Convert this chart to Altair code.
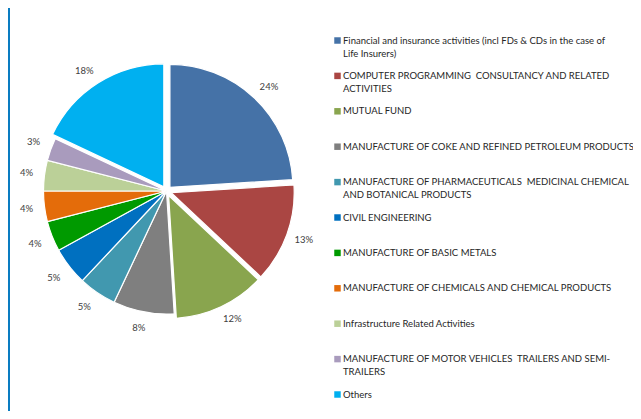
import altair as alt
import pandas as pd

categories = [
    "Financial and insurance activities (incl FDs & CDs in the case of Life Insurers)",
    "COMPUTER PROGRAMMING  CONSULTANCY AND RELATED ACTIVITIES",
    "MUTUAL FUND",
    "MANUFACTURE OF COKE AND REFINED PETROLEUM PRODUCTS",
    "MANUFACTURE OF PHARMACEUTICALS  MEDICINAL CHEMICAL AND BOTANICAL PRODUCTS",
    "CIVIL ENGINEERING",
    "MANUFACTURE OF BASIC METALS",
    "MANUFACTURE OF CHEMICALS AND CHEMICAL PRODUCTS",
    "Infrastructure Related Activities",
    "MANUFACTURE OF MOTOR VEHICLES  TRAILERS AND SEMI-TRAILERS",
    "Others",
]
values = [24, 13, 12, 8, 5, 5, 4, 4, 4, 3, 18]

legend_lines = [
    ["Financial and insurance activities (incl FDs & CDs in the case of", "Life Insurers)"],
    ["COMPUTER PROGRAMMING \u00a0CONSULTANCY AND RELATED", "ACTIVITIES"],
    ["MUTUAL FUND"],
    ["MANUFACTURE OF COKE AND REFINED PETROLEUM PRODUCTS"],
    ["MANUFACTURE OF PHARMACEUTICALS \u00a0MEDICINAL CHEMICAL", "AND BOTANICAL PRODUCTS"],
    ["CIVIL ENGINEERING"],
    ["MANUFACTURE OF BASIC METALS"],
    ["MANUFACTURE OF CHEMICALS AND CHEMICAL PRODUCTS"],
    ["Infrastructure Related Activities"],
    ["MANUFACTURE OF MOTOR VEHICLES \u00a0TRAILERS AND SEMI-", "TRAILERS"],
    ["Others"],
]

# styling
colors = ["#4572A7", "#AA4643", "#89A54E", "#7F7F7F", "#4198AF", "#0070C0",
          "#009A00", "#E46C0A", "#BBD098", "#A99BBD", "#00B0F0"]
exploded_cats = [categories[0], categories[1], categories[2], categories[10]]

W, H = 625, 403
CX, CY, R = 158.5, 183, 123
D = 5
LR = 134.3
HH = 5
FONT = "Lato"

df = pd.DataFrame({
    "cat": categories,
    "value": values,
    "order": list(range(len(categories))),
    "exploded": [1 if c in exploded_cats else 0 for c in categories],
})

color_scale = alt.Scale(domain=categories, range=colors)

base = (
    alt.Chart(df)
    .transform_joinaggregate(total="sum(value)")
    .transform_window(cum="sum(value)", sort=[alt.SortField("order")], frame=[None, 0])
    .transform_calculate(
        t0="(datum.cum - datum.value) / datum.total * 2 * PI",
        t1="datum.cum / datum.total * 2 * PI",
        label="format(datum.value, 'd') + '%'",
    )
    .transform_calculate(
        mid="(datum.t0 + datum.t1) / 2",
        off=f"datum.exploded * {D}",
        hw="2.65 * (length(datum.label) - 1) + 4",
    )
    .transform_calculate(
        cx=f"{CX} + datum.off * sin(datum.mid)",
        cy=f"{CY} - datum.off * cos(datum.mid)",
        lr=f"{LR} + datum.off * 0.35",
        sx="clamp(2 * sin(datum.mid), -1, 1)",
        sy="clamp(2 * cos(datum.mid), -1, 1)",
    )
    .transform_calculate(
        lx=f"{CX} + datum.lr * sin(datum.mid) + datum.hw * datum.sx",
        ly=f"{CY} - datum.lr * cos(datum.mid) - {HH} * datum.sy",
    )
)

pie = base.mark_arc(outerRadius=R, stroke="white", strokeWidth=1.2).encode(
    theta=alt.Theta("t0:Q", scale=None),
    theta2="t1:Q",
    x=alt.X("cx:Q", scale=None, axis=None),
    y=alt.Y("cy:Q", scale=None, axis=None),
    color=alt.Color("cat:N", scale=color_scale, legend=None),
)

pct = base.mark_text(font=FONT, fontSize=9.5, color="#404040").encode(
    x=alt.X("lx:Q", scale=None, axis=None),
    y=alt.Y("ly:Q", scale=None, axis=None),
    text="label:N",
)

# legend
leg_rows = pd.DataFrame({"cat": categories, "row": list(range(len(categories)))})
line_recs = []
for i, lines in enumerate(legend_lines):
    for j, t in enumerate(lines):
        line_recs.append({"row": i, "line": j, "text": t})
leg_text_df = pd.DataFrame(line_recs)

yscale = alt.Scale(domain=[0, 10], range=[32.5, 386.5])

leg_sym = alt.Chart(leg_rows).mark_square(size=42, opacity=1).encode(
    x=alt.value(329.5),
    y=alt.Y("row:Q", scale=yscale, axis=None),
    color=alt.Color("cat:N", scale=color_scale, legend=None),
)

leg_txt = (
    alt.Chart(leg_text_df)
    .transform_calculate(ry="datum.row + datum.line * 0.37")
    .mark_text(font=FONT, fontSize=9.5, color="#262626", align="left", baseline="middle")
    .encode(
        x=alt.value(335),
        y=alt.Y("ry:Q", scale=yscale, axis=None),
        text="text:N",
    )
)

frame_line = alt.Chart(pd.DataFrame({"k": [0]})).mark_rule(color="#0a7cc1", strokeWidth=2).encode(
    x=alt.value(1), y=alt.value(0), y2=alt.value(H)
)

chart = (
    alt.layer(frame_line, pie, pct, leg_sym, leg_txt)
    .resolve_scale(x="independent", y="independent", color="shared")
    .properties(width=W, height=H, autosize=alt.AutoSizeParams(type="none"), padding=0)
    .configure_view(stroke=None)
)

chart.save("out.html", embed_options={"renderer": "svg", "actions": False})
